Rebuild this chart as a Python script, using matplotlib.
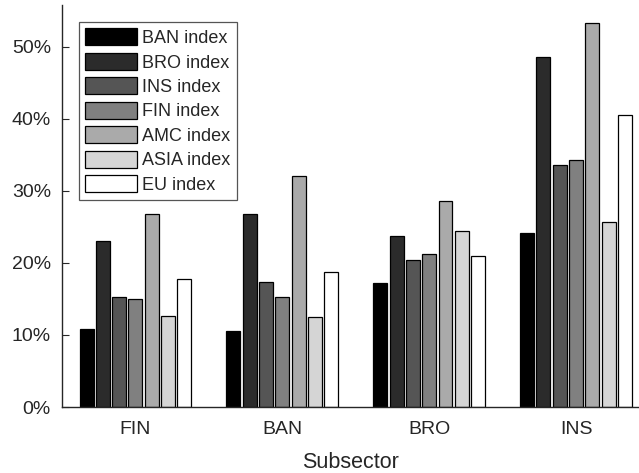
import matplotlib
matplotlib.use("Agg")
import matplotlib.pyplot as plt
import numpy as np

plt.rcParams['font.family'] = ['Liberation Sans', 'DejaVu Sans']

subsectors = ["FIN", "BAN", "BRO", "INS"]
series_names = ["BAN index", "BRO index", "INS index", "FIN index",
                "AMC index", "ASIA index", "EU index"]
ban_idx  = [10.8, 10.6, 17.2, 24.1]
bro_idx  = [23.0, 26.8, 23.8, 48.6]
ins_idx  = [15.3, 17.4, 20.4, 33.6]
fin_idx  = [15.0, 15.2, 21.2, 34.3]
amc_idx  = [26.8, 32.0, 28.6, 53.3]
asia_idx = [12.7, 12.5, 24.4, 25.7]
eu_idx   = [17.7, 18.75, 21.0, 40.5]
series = [ban_idx, bro_idx, ins_idx, fin_idx, amc_idx, asia_idx, eu_idx]
colors = ["#000000", "#2b2b2b", "#555555", "#808080", "#aaaaaa", "#d5d5d5", "#ffffff"]

txt = "#262626"
fig = plt.figure(figsize=(6.39, 4.73), dpi=100)
ax = fig.add_axes([62/639, 1-407/473, 1-62/639, (407-5)/473])

x = np.arange(1, len(subsectors)+1)
n = len(series)
step = 0.111
width = 0.095
for i, (vals, c, name) in enumerate(zip(series, colors, series_names)):
    offs = (i - (n-1)/2) * step
    ax.bar(x + offs, np.array(vals)/100, width=width, color=c,
           edgecolor="black", linewidth=0.9, label=name)

ax.set_xlim(0.5, 1 + (639-135)/147)
ax.set_ylim(0, 0.558)
ax.set_yticks([0, 0.1, 0.2, 0.3, 0.4, 0.5])
ax.set_yticklabels(["0%", "10%", "20%", "30%", "40%", "50%"])
ax.set_xticks(x)
ax.set_xticklabels(subsectors)
ax.tick_params(axis='y', direction='in', length=5, width=0.8, colors=txt,
               labelsize=14, pad=8)
ax.tick_params(axis='x', length=0, labelsize=14, colors=txt, pad=10)
ax.set_xlabel("Subsector", fontsize=15.5, color=txt, labelpad=10)
for s in ["top", "right"]:
    ax.spines[s].set_visible(False)
for s in ["left", "bottom"]:
    ax.spines[s].set_color(txt)
    ax.spines[s].set_linewidth(1.0)

leg = ax.legend(loc="upper left", fontsize=13, handlelength=2.85,
                handleheight=1.05, labelspacing=0.33, handletextpad=0.3,
                borderpad=0.35, borderaxespad=0.95, fancybox=False,
                framealpha=1, edgecolor="#555555")
leg.get_frame().set_linewidth(0.9)
for t in leg.get_texts():
    t.set_color(txt)

fig.savefig("out.png", dpi=100)
